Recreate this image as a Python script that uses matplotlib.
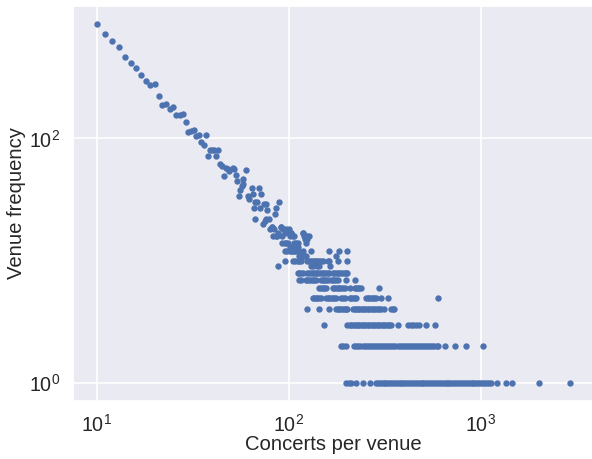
import matplotlib
matplotlib.use("Agg")
import matplotlib.pyplot as plt
import seaborn as sns

# ---- data: upper part (one point per concert count) ----
upper_x = [10, 11, 12, 13, 14, 15, 16, 17, 18, 19, 20, 21, 22, 23, 24, 25, 26, 27, 28, 29,
           30, 31, 32, 33, 34, 35, 36, 37, 38, 39, 40, 41, 42, 43, 44, 45, 46, 47, 48, 49,
           51, 52, 53, 54, 55, 56, 57, 58, 58, 60, 61, 62, 64, 65, 66, 67, 68, 70, 71, 72,
           74, 76, 77, 85, 86, 89, 67, 73, 75, 76, 79, 80, 82, 84, 91, 93, 97, 100, 103, 118]
upper_y = [862, 714, 621, 562, 459, 410, 376, 330, 294, 273, 277, 223, 189, 191, 174, 181, 154, 156, 158, 136,
           113, 114, 117, 105, 107, 93, 89, 107, 72, 80, 80, 81, 72, 80, 62, 60, 49, 57, 56, 54,
           57, 56, 50, 45, 34, 38, 41, 47, 42, 55, 34, 32, 39, 35, 27, 30, 30, 39, 27, 35,
           29, 29, 26, 24, 27, 30, 22, 20, 21, 22, 22, 18, 19, 18, 19, 18, 18, 18, 17, 17]

# ---- data: rows of equal venue frequency (x values per frequency) ----
x_f19 = [82, 91]
x_f17 = [88, 95, 100, 103, 118]
x_f16 = [83, 86, 87, 92, 101, 105, 107, 120, 125, 128]
x_f15 = [122, 125]
x_f14 = [92, 95, 97, 99, 107, 109, 111, 123]
x_f13 = [102, 105, 107, 109, 111]
x_f12 = [96, 98, 101, 103, 105, 107, 109, 111, 118, 130, 162, 183, 202]
x_f11 = [113, 116, 118, 120, 123, 176]
x_f10 = [96, 105, 108, 111, 113, 116, 125, 128, 130, 133, 136, 138, 141, 144, 147, 150,
         159, 162, 180, 202]
x_f9 = [88, 130, 133, 141, 144, 163]
x_f8 = [111, 113, 116, 118, 125, 128, 130, 133, 136, 138, 141, 144, 147, 150, 153, 156,
        159, 162, 169, 172, 176, 180, 183, 187, 191, 195, 198, 202]
x_f7 = [113, 116, 123, 125, 128, 130, 133, 136, 138, 147, 150, 153, 156, 159, 166, 169,
        172, 176, 180, 198, 222]
x_f6 = [144, 147, 150, 153, 156, 169, 172, 176, 180, 183, 187, 191, 195, 207, 220, 224,
        228, 233, 237, 296]
x_f5 = [133, 136, 138, 141, 144, 147, 156, 159, 162, 166, 169, 172, 176, 187, 191, 195,
        207, 211, 215, 220, 224, 252, 257, 262, 268, 273, 279, 284, 302, 327, 600]
x_f4 = [125, 144, 162, 176, 180, 183, 187, 191, 195, 198, 202, 215, 220, 224, 228, 233,
        237, 242, 247, 252, 257, 262, 268, 273, 279, 284, 290, 296, 302, 314, 340, 347, 354]
x_f3 = [153, 202, 207, 211, 215, 220, 224, 228, 233, 237, 242, 247, 252, 257, 262, 268,
        273, 279, 284, 290, 296, 302, 308, 314, 320, 327, 334, 340, 371, 416, 430, 445,
        460, 477, 517, 578]
x_f2 = [187, 192, 199, 219, 224, 230, 236, 242, 248, 254, 260, 267, 274, 281, 288, 295,
        302, 310, 317, 325, 333, 342, 350, 359, 368, 377, 386, 396, 406, 416, 426, 437,
        448, 459, 470, 482, 494, 506, 519, 532, 545, 559, 573, 587, 595, 652, 729, 839, 1028]
x_f1 = [199, 205, 211, 224, 242, 263, 284, 291, 297, 305, 312, 318, 326, 333, 341, 349,
        356, 365, 373, 382, 390, 400, 409, 418, 428, 437, 448, 458, 469, 480, 491, 502,
        514, 526, 538, 551, 563, 576, 590, 604, 618, 632, 647, 662, 677, 693, 709, 726,
        743, 760, 778, 796, 815, 834, 853, 873, 893, 914, 935, 957, 979, 1002, 1025, 1049,
        1073, 1100, 1127, 1219, 1349, 1443, 2010, 2918]

rows = [(19, x_f19), (17, x_f17), (16, x_f16), (15, x_f15), (14, x_f14), (13, x_f13),
        (12, x_f12), (11, x_f11), (10, x_f10), (9, x_f9), (8, x_f8), (7, x_f7),
        (6, x_f6), (5, x_f5), (4, x_f4), (3, x_f3), (2, x_f2), (1, x_f1)]

x_ticks = [10, 100, 1000]
y_ticks = [1, 100]

xs = list(upper_x)
ys = list(upper_y)
for f, xl in rows:
    xs.extend(xl)
    ys.extend([f] * len(xl))

sns.set_theme(style="darkgrid")
plt.rcParams["font.family"] = ["Liberation Sans", "DejaVu Sans"]

fig = plt.figure(figsize=(5.92, 4.59), dpi=100)
ax = fig.add_axes([73 / 592, 1 - 401 / 459, (594 - 73) / 592, (401 - 6) / 459])
ax.scatter(xs, ys, s=21, color="#4C72B0", linewidths=0)
ax.set_xscale("log")
ax.set_yscale("log")
ax.set_xticks(x_ticks)
ax.set_yticks(y_ticks)
ax.minorticks_off()
ax.set_xlabel("Concerts per venue", fontsize=14.6, labelpad=0)
ax.set_ylabel("Venue frequency", fontsize=14.6, labelpad=2)
ax.tick_params(labelsize=14.2, pad=3)
ax.grid(True, which="major", color="white", linewidth=1.2)

fig.savefig("out.png", dpi=100)
